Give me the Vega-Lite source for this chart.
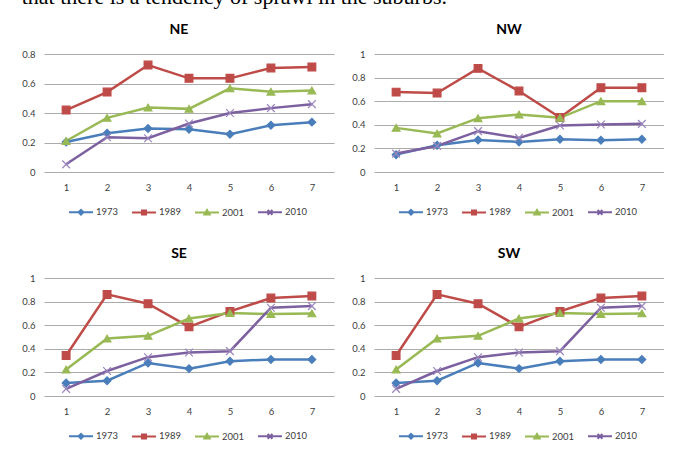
{
  "$schema": "https://vega.github.io/schema/vega-lite/v6.json",
  "padding": {"left": 21, "top": -14, "right": 0, "bottom": 0},
  "background": "white",
  "title": {"text": "that there is a tendency of sprawl in the suburbs.", "anchor": "start", "frame": "bounds", "font": "Liberation Serif", "fontSize": 22, "fontWeight": "normal", "color": "#000000", "baseline": "bottom", "offset": -8, "dx": 0},
  "config": {
    "font": "Lato",
    "view": {"stroke": null},
    "axis": {"labelFont": "Lato", "labelFontSize": 9.5, "labelColor": "#404040", "gridColor": "#ABABAB", "gridWidth": 1, "domain": false, "ticks": false, "title": null},
    "title": {"font": "Lato", "fontSize": 14, "fontWeight": "bold", "color": "#000000", "dx": -10, "offset": 12},
    "legend": {"labelFont": "Lato", "labelFontSize": 9.5, "labelColor": "#404040", "orient": "none", "legendX": 24, "legendY": 145, "direction": "horizontal", "title": null, "padding": 0, "symbolSize": 576, "symbolStrokeWidth": 2, "symbolOpacity": 1, "labelOffset": 2, "columnPadding": 9}
  },
  "datasets": {
    "ne": [
      {"zone": 1, "year": "1973", "value": 0.204}, {"zone": 2, "year": "1973", "value": 0.263}, {"zone": 3, "year": "1973", "value": 0.295}, {"zone": 4, "year": "1973", "value": 0.29}, {"zone": 5, "year": "1973", "value": 0.256}, {"zone": 6, "year": "1973", "value": 0.317}, {"zone": 7, "year": "1973", "value": 0.338},
      {"zone": 1, "year": "1989", "value": 0.42}, {"zone": 2, "year": "1989", "value": 0.542}, {"zone": 3, "year": "1989", "value": 0.725}, {"zone": 4, "year": "1989", "value": 0.635}, {"zone": 5, "year": "1989", "value": 0.635}, {"zone": 6, "year": "1989", "value": 0.705}, {"zone": 7, "year": "1989", "value": 0.712},
      {"zone": 1, "year": "2001", "value": 0.21}, {"zone": 2, "year": "2001", "value": 0.367}, {"zone": 3, "year": "2001", "value": 0.437}, {"zone": 4, "year": "2001", "value": 0.428}, {"zone": 5, "year": "2001", "value": 0.567}, {"zone": 6, "year": "2001", "value": 0.544}, {"zone": 7, "year": "2001", "value": 0.553},
      {"zone": 1, "year": "2010", "value": 0.052}, {"zone": 2, "year": "2010", "value": 0.236}, {"zone": 3, "year": "2010", "value": 0.229}, {"zone": 4, "year": "2010", "value": 0.329}, {"zone": 5, "year": "2010", "value": 0.40}, {"zone": 6, "year": "2010", "value": 0.433}, {"zone": 7, "year": "2010", "value": 0.46}
    ],
    "nw": [
      {"zone": 1, "year": "1973", "value": 0.147}, {"zone": 2, "year": "1973", "value": 0.227}, {"zone": 3, "year": "1973", "value": 0.272}, {"zone": 4, "year": "1973", "value": 0.255}, {"zone": 5, "year": "1973", "value": 0.278}, {"zone": 6, "year": "1973", "value": 0.269}, {"zone": 7, "year": "1973", "value": 0.278},
      {"zone": 1, "year": "1989", "value": 0.677}, {"zone": 2, "year": "1989", "value": 0.669}, {"zone": 3, "year": "1989", "value": 0.878}, {"zone": 4, "year": "1989", "value": 0.686}, {"zone": 5, "year": "1989", "value": 0.462}, {"zone": 6, "year": "1989", "value": 0.714}, {"zone": 7, "year": "1989", "value": 0.714},
      {"zone": 1, "year": "2001", "value": 0.374}, {"zone": 2, "year": "2001", "value": 0.326}, {"zone": 3, "year": "2001", "value": 0.456}, {"zone": 4, "year": "2001", "value": 0.487}, {"zone": 5, "year": "2001", "value": 0.459}, {"zone": 6, "year": "2001", "value": 0.60}, {"zone": 7, "year": "2001", "value": 0.60},
      {"zone": 1, "year": "2010", "value": 0.156}, {"zone": 2, "year": "2010", "value": 0.221}, {"zone": 3, "year": "2010", "value": 0.346}, {"zone": 4, "year": "2010", "value": 0.289}, {"zone": 5, "year": "2010", "value": 0.394}, {"zone": 6, "year": "2010", "value": 0.402}, {"zone": 7, "year": "2010", "value": 0.408}
    ],
    "se": [
      {"zone": 1, "year": "1973", "value": 0.11}, {"zone": 2, "year": "1973", "value": 0.13}, {"zone": 3, "year": "1973", "value": 0.28}, {"zone": 4, "year": "1973", "value": 0.232}, {"zone": 5, "year": "1973", "value": 0.295}, {"zone": 6, "year": "1973", "value": 0.31}, {"zone": 7, "year": "1973", "value": 0.31},
      {"zone": 1, "year": "1989", "value": 0.343}, {"zone": 2, "year": "1989", "value": 0.861}, {"zone": 3, "year": "1989", "value": 0.782}, {"zone": 4, "year": "1989", "value": 0.586}, {"zone": 5, "year": "1989", "value": 0.717}, {"zone": 6, "year": "1989", "value": 0.83}, {"zone": 7, "year": "1989", "value": 0.847},
      {"zone": 1, "year": "2001", "value": 0.224}, {"zone": 2, "year": "2001", "value": 0.487}, {"zone": 3, "year": "2001", "value": 0.51}, {"zone": 4, "year": "2001", "value": 0.657}, {"zone": 5, "year": "2001", "value": 0.703}, {"zone": 6, "year": "2001", "value": 0.694}, {"zone": 7, "year": "2001", "value": 0.70},
      {"zone": 1, "year": "2010", "value": 0.06}, {"zone": 2, "year": "2010", "value": 0.212}, {"zone": 3, "year": "2010", "value": 0.329}, {"zone": 4, "year": "2010", "value": 0.368}, {"zone": 5, "year": "2010", "value": 0.38}, {"zone": 6, "year": "2010", "value": 0.748}, {"zone": 7, "year": "2010", "value": 0.762}
    ],
    "sw": [
      {"zone": 1, "year": "1973", "value": 0.11}, {"zone": 2, "year": "1973", "value": 0.13}, {"zone": 3, "year": "1973", "value": 0.28}, {"zone": 4, "year": "1973", "value": 0.232}, {"zone": 5, "year": "1973", "value": 0.295}, {"zone": 6, "year": "1973", "value": 0.31}, {"zone": 7, "year": "1973", "value": 0.31},
      {"zone": 1, "year": "1989", "value": 0.343}, {"zone": 2, "year": "1989", "value": 0.861}, {"zone": 3, "year": "1989", "value": 0.782}, {"zone": 4, "year": "1989", "value": 0.586}, {"zone": 5, "year": "1989", "value": 0.717}, {"zone": 6, "year": "1989", "value": 0.83}, {"zone": 7, "year": "1989", "value": 0.847},
      {"zone": 1, "year": "2001", "value": 0.224}, {"zone": 2, "year": "2001", "value": 0.487}, {"zone": 3, "year": "2001", "value": 0.51}, {"zone": 4, "year": "2001", "value": 0.657}, {"zone": 5, "year": "2001", "value": 0.703}, {"zone": 6, "year": "2001", "value": 0.694}, {"zone": 7, "year": "2001", "value": 0.70},
      {"zone": 1, "year": "2010", "value": 0.06}, {"zone": 2, "year": "2010", "value": 0.212}, {"zone": 3, "year": "2010", "value": 0.329}, {"zone": 4, "year": "2010", "value": 0.368}, {"zone": 5, "year": "2010", "value": 0.38}, {"zone": 6, "year": "2010", "value": 0.748}, {"zone": 7, "year": "2010", "value": 0.762}
    ]
  },
  "columns": 2,
  "bounds": "flush",
  "spacing": {"row": 106, "column": 40},
  "resolve": {"scale": {"color": "independent", "fill": "independent", "shape": "independent", "stroke": "independent"}, "legend": {"color": "independent", "fill": "independent", "shape": "independent", "stroke": "independent"}},
  "concat": [
    {
      "title": {"text": "NE"},
      "width": 290, "height": 118,
      "data": {"name": "ne"},
      "resolve": {"scale": {"color": "independent", "fill": "independent", "shape": "independent", "stroke": "independent"}, "legend": {"color": "independent", "fill": "independent", "shape": "independent", "stroke": "independent"}},
      "encoding": {
        "x": {"field": "zone", "type": "ordinal", "scale": {"padding": 0.54}, "axis": {"labelAngle": 0, "grid": false, "labelPadding": 10}},
        "y": {"field": "value", "type": "quantitative", "scale": {"domain": [0, 0.8]}, "axis": {"values": [0, 0.2, 0.4, 0.6, 0.8], "format": "~g", "grid": true, "labelPadding": 9}}
      },
      "layer": [
        {"mark": {"type": "line", "strokeWidth": 2.5},
         "encoding": {"color": {"field": "year", "type": "nominal", "scale": {"domain": ["1973", "1989", "2001", "2010"], "range": ["#4A7EBB", "#BE4B48", "#98B954", "#7D60A0"]}, "legend": null}}},
        {"mark": {"type": "point", "filled": true, "size": 60, "strokeWidth": 1.2, "opacity": 1},
         "encoding": {
           "color": {"field": "year", "type": "nominal", "scale": {"domain": ["1973", "1989", "2001", "2010"], "range": ["#4A7EBB", "#BE4B48", "#98B954", "#7D60A0"]}, "legend": null},
           "shape": {"field": "year", "type": "nominal", "scale": {"domain": ["1973", "1989", "2001", "2010"], "range": ["diamond", "square", "triangle-up", "M-1,-1L1,1M-1,1L1,-1"]}, "legend": null},
           "stroke": {"field": "year", "type": "nominal", "scale": {"domain": ["1973", "1989", "2001", "2010"], "range": ["#4A7EBB", "#BE4B48", "#98B954", "#9A86BC"]}, "legend": null}
         }},
        {"mark": {"type": "point", "filled": false, "opacity": 0},
         "encoding": {
           "color": {"field": "year", "type": "nominal", "scale": {"domain": ["1973", "1989", "2001", "2010"], "range": ["#4A7EBB", "#BE4B48", "#98B954", "#7D60A0"]}, "legend": {}},
           "fill": {"field": "year", "type": "nominal", "scale": {"domain": ["1973", "1989", "2001", "2010"], "range": ["#4A7EBB", "#BE4B48", "#98B954", "#7D60A0"]}, "legend": {}},
           "shape": {"field": "year", "type": "nominal", "scale": {"domain": ["1973", "1989", "2001", "2010"], "range": ["M-1,0L1,0M0,-0.2L0.2,0L0,0.2L-0.2,0Z", "M-1,0L1,0M-0.17,-0.17L0.17,-0.17L0.17,0.17L-0.17,0.17Z", "M-1,0L1,0M0,-0.22L0.22,0.16L-0.22,0.16Z", "M-1,0L1,0M-0.2,-0.2L0.2,0.2M-0.2,0.2L0.2,-0.2"]}, "legend": {}}
         }}
      ]
    },
    {
      "title": {"text": "NW"},
      "width": 290, "height": 118,
      "data": {"name": "nw"},
      "resolve": {"scale": {"color": "independent", "fill": "independent", "shape": "independent", "stroke": "independent"}, "legend": {"color": "independent", "fill": "independent", "shape": "independent", "stroke": "independent"}},
      "encoding": {
        "x": {"field": "zone", "type": "ordinal", "scale": {"padding": 0.54}, "axis": {"labelAngle": 0, "grid": false, "labelPadding": 10}},
        "y": {"field": "value", "type": "quantitative", "scale": {"domain": [0, 1]}, "axis": {"values": [0, 0.2, 0.4, 0.6, 0.8, 1], "format": "~g", "grid": true, "labelPadding": 9}}
      },
      "layer": [
        {"mark": {"type": "line", "strokeWidth": 2.5},
         "encoding": {"color": {"field": "year", "type": "nominal", "scale": {"domain": ["1973", "1989", "2001", "2010"], "range": ["#4A7EBB", "#BE4B48", "#98B954", "#7D60A0"]}, "legend": null}}},
        {"mark": {"type": "point", "filled": true, "size": 60, "strokeWidth": 1.2, "opacity": 1},
         "encoding": {
           "color": {"field": "year", "type": "nominal", "scale": {"domain": ["1973", "1989", "2001", "2010"], "range": ["#4A7EBB", "#BE4B48", "#98B954", "#7D60A0"]}, "legend": null},
           "shape": {"field": "year", "type": "nominal", "scale": {"domain": ["1973", "1989", "2001", "2010"], "range": ["diamond", "square", "triangle-up", "M-1,-1L1,1M-1,1L1,-1"]}, "legend": null},
           "stroke": {"field": "year", "type": "nominal", "scale": {"domain": ["1973", "1989", "2001", "2010"], "range": ["#4A7EBB", "#BE4B48", "#98B954", "#9A86BC"]}, "legend": null}
         }},
        {"mark": {"type": "point", "filled": false, "opacity": 0},
         "encoding": {
           "color": {"field": "year", "type": "nominal", "scale": {"domain": ["1973", "1989", "2001", "2010"], "range": ["#4A7EBB", "#BE4B48", "#98B954", "#7D60A0"]}, "legend": {}},
           "fill": {"field": "year", "type": "nominal", "scale": {"domain": ["1973", "1989", "2001", "2010"], "range": ["#4A7EBB", "#BE4B48", "#98B954", "#7D60A0"]}, "legend": {}},
           "shape": {"field": "year", "type": "nominal", "scale": {"domain": ["1973", "1989", "2001", "2010"], "range": ["M-1,0L1,0M0,-0.2L0.2,0L0,0.2L-0.2,0Z", "M-1,0L1,0M-0.17,-0.17L0.17,-0.17L0.17,0.17L-0.17,0.17Z", "M-1,0L1,0M0,-0.22L0.22,0.16L-0.22,0.16Z", "M-1,0L1,0M-0.2,-0.2L0.2,0.2M-0.2,0.2L0.2,-0.2"]}, "legend": {}}
         }}
      ]
    },
    {
      "title": {"text": "SE"},
      "width": 290, "height": 118,
      "data": {"name": "se"},
      "resolve": {"scale": {"color": "independent", "fill": "independent", "shape": "independent", "stroke": "independent"}, "legend": {"color": "independent", "fill": "independent", "shape": "independent", "stroke": "independent"}},
      "encoding": {
        "x": {"field": "zone", "type": "ordinal", "scale": {"padding": 0.54}, "axis": {"labelAngle": 0, "grid": false, "labelPadding": 10}},
        "y": {"field": "value", "type": "quantitative", "scale": {"domain": [0, 1]}, "axis": {"values": [0, 0.2, 0.4, 0.6, 0.8, 1], "format": "~g", "grid": true, "labelPadding": 9}}
      },
      "layer": [
        {"mark": {"type": "line", "strokeWidth": 2.5},
         "encoding": {"color": {"field": "year", "type": "nominal", "scale": {"domain": ["1973", "1989", "2001", "2010"], "range": ["#4A7EBB", "#BE4B48", "#98B954", "#7D60A0"]}, "legend": null}}},
        {"mark": {"type": "point", "filled": true, "size": 60, "strokeWidth": 1.2, "opacity": 1},
         "encoding": {
           "color": {"field": "year", "type": "nominal", "scale": {"domain": ["1973", "1989", "2001", "2010"], "range": ["#4A7EBB", "#BE4B48", "#98B954", "#7D60A0"]}, "legend": null},
           "shape": {"field": "year", "type": "nominal", "scale": {"domain": ["1973", "1989", "2001", "2010"], "range": ["diamond", "square", "triangle-up", "M-1,-1L1,1M-1,1L1,-1"]}, "legend": null},
           "stroke": {"field": "year", "type": "nominal", "scale": {"domain": ["1973", "1989", "2001", "2010"], "range": ["#4A7EBB", "#BE4B48", "#98B954", "#9A86BC"]}, "legend": null}
         }},
        {"mark": {"type": "point", "filled": false, "opacity": 0},
         "encoding": {
           "color": {"field": "year", "type": "nominal", "scale": {"domain": ["1973", "1989", "2001", "2010"], "range": ["#4A7EBB", "#BE4B48", "#98B954", "#7D60A0"]}, "legend": {}},
           "fill": {"field": "year", "type": "nominal", "scale": {"domain": ["1973", "1989", "2001", "2010"], "range": ["#4A7EBB", "#BE4B48", "#98B954", "#7D60A0"]}, "legend": {}},
           "shape": {"field": "year", "type": "nominal", "scale": {"domain": ["1973", "1989", "2001", "2010"], "range": ["M-1,0L1,0M0,-0.2L0.2,0L0,0.2L-0.2,0Z", "M-1,0L1,0M-0.17,-0.17L0.17,-0.17L0.17,0.17L-0.17,0.17Z", "M-1,0L1,0M0,-0.22L0.22,0.16L-0.22,0.16Z", "M-1,0L1,0M-0.2,-0.2L0.2,0.2M-0.2,0.2L0.2,-0.2"]}, "legend": {}}
         }}
      ]
    },
    {
      "title": {"text": "SW"},
      "width": 290, "height": 118,
      "data": {"name": "sw"},
      "resolve": {"scale": {"color": "independent", "fill": "independent", "shape": "independent", "stroke": "independent"}, "legend": {"color": "independent", "fill": "independent", "shape": "independent", "stroke": "independent"}},
      "encoding": {
        "x": {"field": "zone", "type": "ordinal", "scale": {"padding": 0.54}, "axis": {"labelAngle": 0, "grid": false, "labelPadding": 10}},
        "y": {"field": "value", "type": "quantitative", "scale": {"domain": [0, 1]}, "axis": {"values": [0, 0.2, 0.4, 0.6, 0.8, 1], "format": "~g", "grid": true, "labelPadding": 9}}
      },
      "layer": [
        {"mark": {"type": "line", "strokeWidth": 2.5},
         "encoding": {"color": {"field": "year", "type": "nominal", "scale": {"domain": ["1973", "1989", "2001", "2010"], "range": ["#4A7EBB", "#BE4B48", "#98B954", "#7D60A0"]}, "legend": null}}},
        {"mark": {"type": "point", "filled": true, "size": 60, "strokeWidth": 1.2, "opacity": 1},
         "encoding": {
           "color": {"field": "year", "type": "nominal", "scale": {"domain": ["1973", "1989", "2001", "2010"], "range": ["#4A7EBB", "#BE4B48", "#98B954", "#7D60A0"]}, "legend": null},
           "shape": {"field": "year", "type": "nominal", "scale": {"domain": ["1973", "1989", "2001", "2010"], "range": ["diamond", "square", "triangle-up", "M-1,-1L1,1M-1,1L1,-1"]}, "legend": null},
           "stroke": {"field": "year", "type": "nominal", "scale": {"domain": ["1973", "1989", "2001", "2010"], "range": ["#4A7EBB", "#BE4B48", "#98B954", "#9A86BC"]}, "legend": null}
         }},
        {"mark": {"type": "point", "filled": false, "opacity": 0},
         "encoding": {
           "color": {"field": "year", "type": "nominal", "scale": {"domain": ["1973", "1989", "2001", "2010"], "range": ["#4A7EBB", "#BE4B48", "#98B954", "#7D60A0"]}, "legend": {}},
           "fill": {"field": "year", "type": "nominal", "scale": {"domain": ["1973", "1989", "2001", "2010"], "range": ["#4A7EBB", "#BE4B48", "#98B954", "#7D60A0"]}, "legend": {}},
           "shape": {"field": "year", "type": "nominal", "scale": {"domain": ["1973", "1989", "2001", "2010"], "range": ["M-1,0L1,0M0,-0.2L0.2,0L0,0.2L-0.2,0Z", "M-1,0L1,0M-0.17,-0.17L0.17,-0.17L0.17,0.17L-0.17,0.17Z", "M-1,0L1,0M0,-0.22L0.22,0.16L-0.22,0.16Z", "M-1,0L1,0M-0.2,-0.2L0.2,0.2M-0.2,0.2L0.2,-0.2"]}, "legend": {}}
         }}
      ]
    }
  ]
}
